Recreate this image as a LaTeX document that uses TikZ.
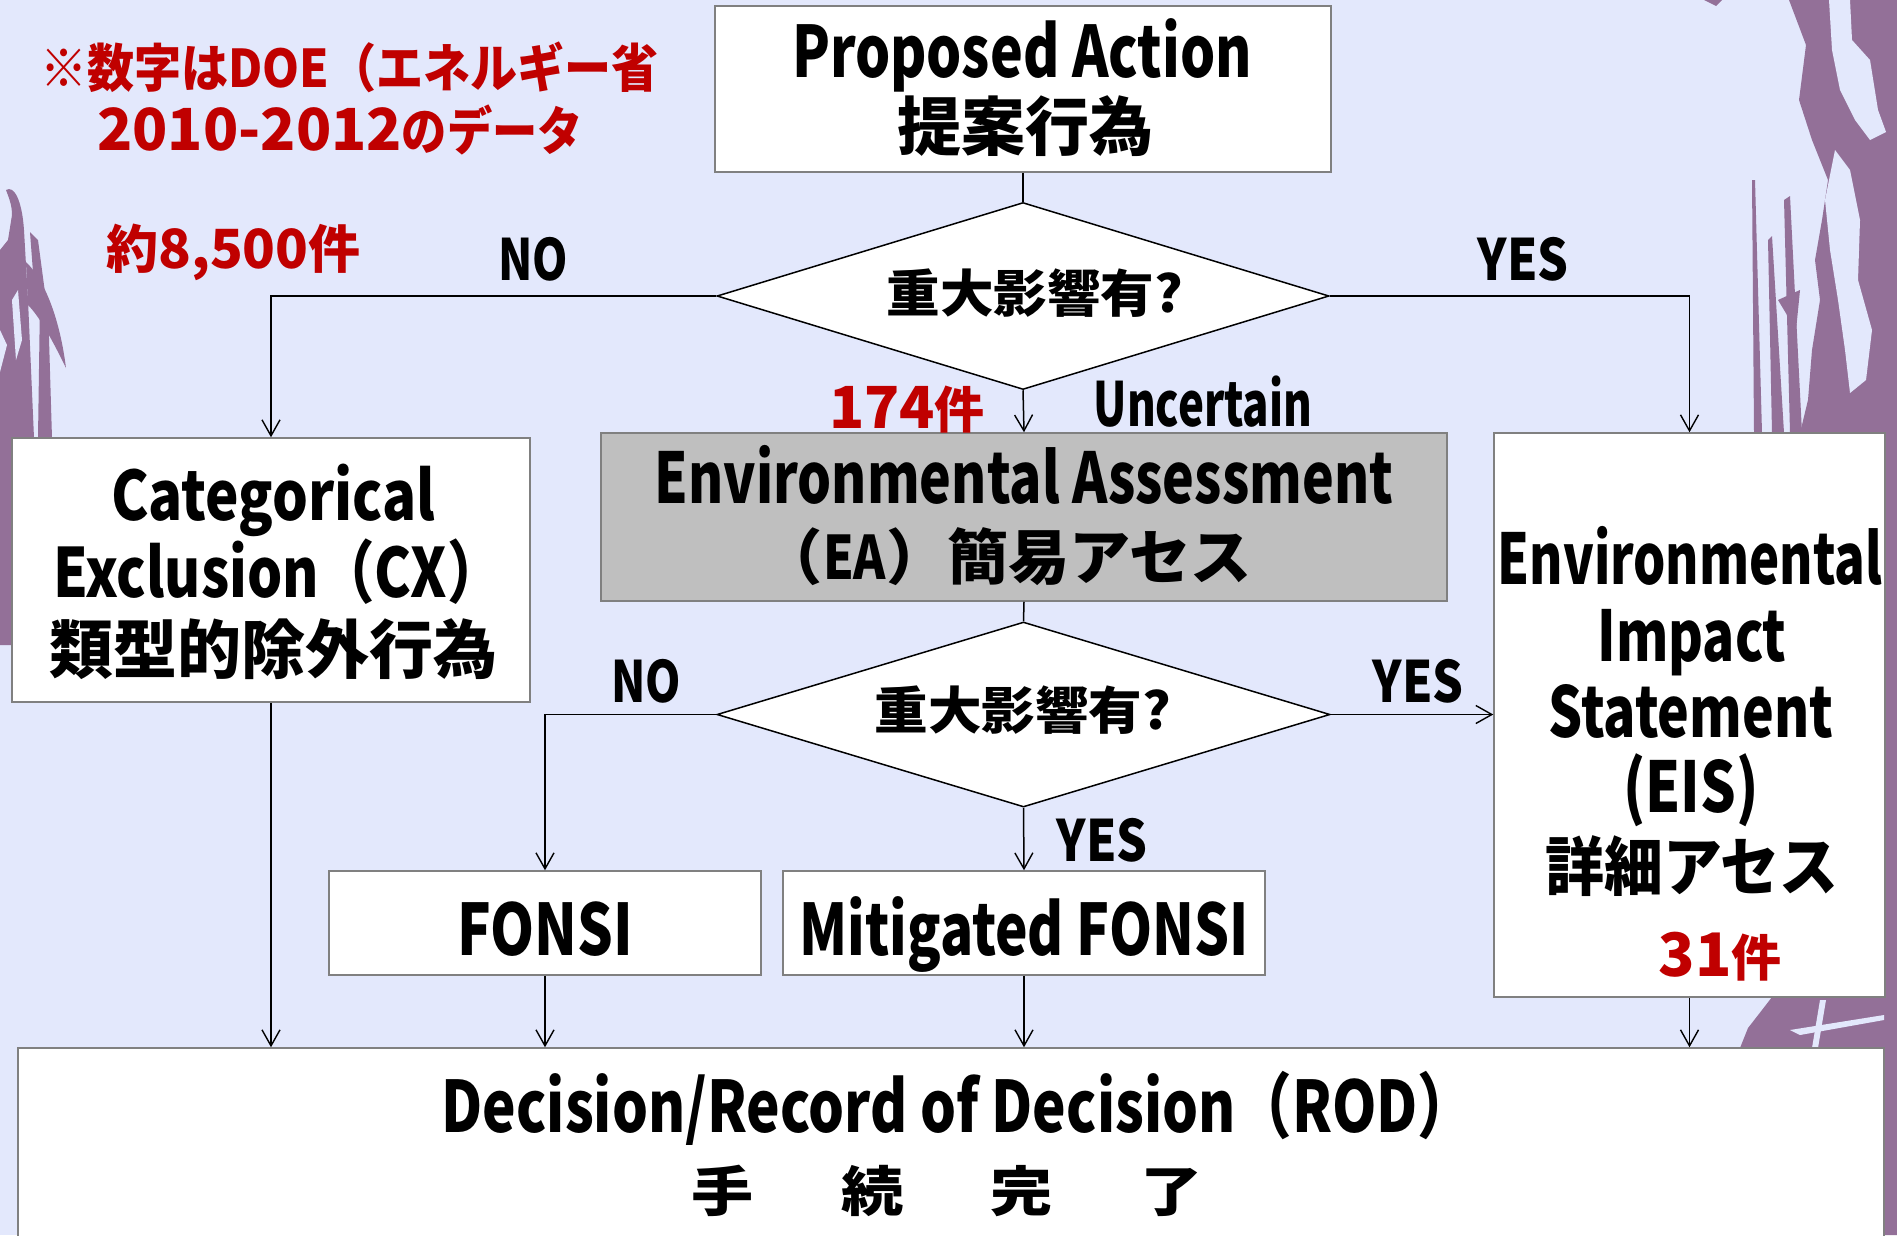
\documentclass[tikz,border=0pt]{standalone}
\usepackage{graphicx}
\usepackage{fontspec}
\setmainfont{Noto Sans CJK JP}
\usetikzlibrary{shapes.geometric,arrows.meta}
\definecolor{bgc}{RGB}{227,232,252}
\definecolor{purp}{RGB}{147,112,152}
\definecolor{redc}{RGB}{192,0,0}
\definecolor{boxc}{RGB}{128,128,128}
\definecolor{eagray}{RGB}{191,191,191}
\newcommand\hs[2]{\scalebox{#1}[1]{#2}}
\newcommand\fs[1]{\fontsize{#1}{#1}\selectfont}
\begin{document}
\begin{tikzpicture}[x=1pt,y=-1pt,
  box/.style={draw=boxc, line width=1.5pt, fill=white, inner sep=0pt},
  dia/.style={diamond, draw=black, line width=1.5pt, fill=white, inner sep=0pt},
  txt/.style={anchor=base, inner sep=0pt, font=\bfseries},
  redtxt/.style={txt, text=redc},
  conn/.style={line width=1.5pt, draw=black},
  arr/.style={conn, -{Straight Barb[length=16pt,width=18pt,line width=1.4pt]}}
]
\useasboundingbox (0,0) rectangle (1897,1235);
\fill[bgc] (0,0) rectangle (1897,1235);
% decoration right
\fill[purp] (1789,0) -- (1897,0) -- (1897,1235) -- (1884,1235) -- (1884,1048) -- (1740,1048)
  -- (1748,1028) -- (1762,1010) -- (1772,997) -- (1800,997) -- (1800,433)
  -- (1808,400) -- (1812,350) -- (1820,300) -- (1815,260) -- (1822,220) -- (1828,180)
  -- (1812,140) -- (1799,100) -- (1806,45) -- cycle;
\fill[purp] (1704,0) -- (1722,0) -- (1716,6) -- cycle;
\fill[bgc] (1829,0) -- (1850,0) -- (1852,40) -- (1870,60) -- (1878,110) -- (1886,132)
  -- (1870,140) -- (1855,120) -- (1840,90) -- (1832,50) -- cycle;
\fill[bgc] (1835,150) -- (1850,170) -- (1860,220) -- (1858,280) -- (1872,330)
  -- (1866,380) -- (1850,393) -- (1845,350) -- (1838,300) -- (1830,250) -- (1825,200) -- cycle;
\fill[purp] (1752,180) -- (1755,180) -- (1762,433) -- (1754,433) -- cycle;
\fill[purp] (1768,240) -- (1772,236) -- (1784,433) -- (1772,433) -- cycle;
\fill[purp] (1784,200) -- (1790,196) -- (1802,433) -- (1790,433) -- cycle;
\fill[purp] (1778,300) -- (1800,290) -- (1796,330) -- cycle;
\fill[bgc] (1790,1030) -- (1884,1015) -- (1884,1020) -- (1800,1035) -- cycle;
\fill[bgc] (1820,1000) -- (1826,1000) -- (1818,1048) -- (1812,1048) -- cycle;
% decoration left
\fill[purp] (6,190) .. controls (14,185) and (22,200) .. (24,230) -- (28,300) -- (34,438)
  -- (0,438) -- (0,250) -- (8,240) -- (12,215) .. controls (12,205) and (9,198) .. (6,190) -- cycle;
\fill[purp] (26,262) .. controls (45,280) and (60,320) .. (66,368) .. controls (50,335) and (38,315) .. (28,305) -- cycle;
\fill[purp] (30,232) -- (38,240) -- (46,300) -- (36,312) -- cycle;
\fill[purp] (40,300) -- (48,305) -- (52,438) -- (38,438) -- cycle;
\fill[purp] (0,430) -- (16,430) -- (13,645) -- (0,645) -- cycle;
\fill[bgc] (12,300) -- (18,290) -- (22,340) -- (16,360) -- cycle;
\fill[bgc] (0,330) -- (7,345) -- (0,372) -- cycle;
% boxes
\node[box, minimum width=616pt, minimum height=166pt] (PA) at (1023,89) {};
\node[dia, minimum width=612pt, minimum height=187pt] (D1) at (1023,296) {};
\node[box, minimum width=518pt, minimum height=264pt] (CX) at (271,570) {};
\node[box, fill=eagray, minimum width=846pt, minimum height=168pt] (EA) at (1024,517) {};
\node[box, minimum width=391pt, minimum height=564pt] (EIS) at (1689.5,715) {};
\node[dia, minimum width=613pt, minimum height=185pt] (D2) at (1023.5,714.5) {};
\node[box, minimum width=432pt, minimum height=104pt] (FONSI) at (545,923) {};
\node[box, minimum width=482pt, minimum height=104pt] (MF) at (1024,923) {};
\node[box, minimum width=1866pt, minimum height=200pt] (ROD) at (951,1148) {};
% connectors
\draw[conn] (PA.south) -- (D1.north);
\draw[arr] (D1.west) -| (CX.north);
\draw[arr] (D1.east) -| (EIS.north);
\draw[arr] (D1.south) -- (EA.north);
\draw[conn] (EA.south) -- (D2.north);
\draw[arr] (D2.west) -| (FONSI.north);
\draw[arr] (D2.east) -- (EIS.west |- D2.east);
\draw[arr] (D2.south) -- (MF.north);
\draw[arr] (CX.south) -- (CX.south |- ROD.north);
\draw[arr] (FONSI.south) -- (FONSI.south |- ROD.north);
\draw[arr] (MF.south) -- (MF.south |- ROD.north);
\draw[arr] (EIS.south) -- (EIS.south |- ROD.north);
% texts in boxes
\node[txt] (tPA1) at (1022,77) {\fs{71}\hs{0.78}{Proposed Action}};
\node[txt] (tPA2) at (1025,150) {\fs{64}提案行為};
\node[txt] (tD1) at (1035,312) {\fs{51}\hs{1.05}{重大影響有?}};
\node[txt] (tD2) at (1023,729) {\fs{51}\hs{1.05}{重大影響有?}};
\node[txt] (tEA1) at (1024,503) {\fs{70}\hs{0.765}{Environmental Assessment}};
\node[txt] (tEA2) at (1007,579) {\fs{60}\hs{1.02}{（\hs{0.8}{EA}）簡易アセス}};
\node[txt] (tCX1) at (273,520) {\fs{68}\hs{0.83}{Categorical}};
\node[txt] (tCX2) at (278,597) {\fs{68}\hs{0.815}{Exclusion（CX）}};
\node[txt] (tCX3) at (273,673) {\fs{64}類型的除外行為};
\node[txt] (tEIS1) at (1690,584) {\fs{70}\hs{0.727}{Environmental}};
\node[txt] (tEIS2) at (1692,661) {\fs{70}\hs{0.76}{Impact}};
\node[txt] (tEIS3) at (1691,737) {\fs{70}\hs{0.765}{Statement}};
\node[txt] (tEIS4) at (1691,812) {\fs{70}\hs{0.8}{(EIS)}};
\node[txt] (tEIS5) at (1692,890) {\fs{64}\hs{0.92}{詳細アセス}};
\node[redtxt] (tEIS6) at (1720,976) {\fs{60}31\fs{50}件};
\node[txt] (tFO) at (545,955) {\fs{71}\hs{0.79}{FONSI}};
\node[txt] (tMF) at (1024,955) {\fs{71}\hs{0.773}{Mitigated FONSI}};
\node[txt] (tROD1) at (958,1132) {\fs{71}\hs{0.797}{Decision/Record of Decision（ROD）}};
\node[txt] (tROD2) at (947,1211) {\fs{54}\hs{1.15}{手　\hspace{22pt}続　\hspace{22pt}完　\hspace{22pt}了}};
% labels
\node[txt] (lNO1) at (533,280) {\fs{57}\hs{0.79}{NO}};
\node[txt] (lYES1) at (1523,280) {\fs{57}\hs{0.85}{YES}};
\node[redtxt] (l174) at (907,428) {\fs{58}174\fs{50}件};
\node[txt] (lUnc) at (1203,426) {\fs{61}\hs{0.718}{Uncertain}};
\node[txt] (lNO2) at (646,702) {\fs{57}\hs{0.79}{NO}};
\node[txt] (lYES2) at (1418,702) {\fs{57}\hs{0.85}{YES}};
\node[txt] (lYES3) at (1102,861) {\fs{57}\hs{0.85}{YES}};
% red notes
\node[redtxt, anchor=base west] (n1) at (40,87) {\fs{52}\hs{0.905}{※数字はDOE（エネルギー省}};
\node[redtxt, anchor=base west] (n2) at (97,150) {\fs{58}2010-2012\fs{52}\hs{0.87}{のデータ}};
\node[redtxt, anchor=base west] (n3) at (106,268) {\fs{52}約\fs{54}8,500\fs{52}件};
\end{tikzpicture}
\end{document}
